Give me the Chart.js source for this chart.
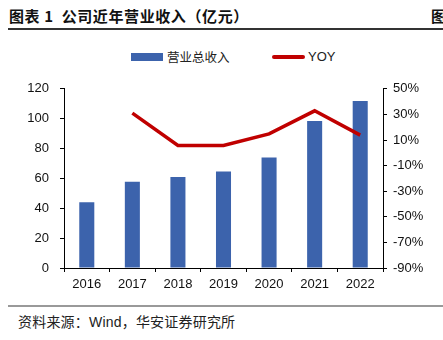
<!DOCTYPE html>
<html>
<head>
<meta charset="utf-8">
<script src="https://cdn.jsdelivr.net/npm/chart.js@4/dist/chart.umd.min.js"></script>
<style>
  body { margin: 0; width: 443px; height: 340px; overflow: hidden; background: #fff; position: relative;
         font-family: "Liberation Sans", "Noto Sans CJK SC", sans-serif; }
  .title { position: absolute; left: 9px; top: 6px; font-size: 15px; font-weight: bold; color: #111;
           font-family: "Noto Sans CJK SC", sans-serif; white-space: nowrap; line-height: 20px; letter-spacing: 0.6px; }
  .title2 { position: absolute; left: 431px; top: 6px; font-size: 15px; font-weight: bold; color: #111;
            font-family: "Noto Sans CJK SC", sans-serif; line-height: 20px; }
  .rule-top { position: absolute; left: 8px; right: 0; top: 28px; height: 2px; background: #333; }
  .rule-bot { position: absolute; left: 8px; right: 0; top: 305px; height: 2px; background: #999; }
  .source { position: absolute; left: 18px; top: 312px; font-size: 14px; color: #222; line-height: 20px; white-space: nowrap; letter-spacing: 0.2px; }
  .legend { position: absolute; top: 48px; left: 0; width: 443px; height: 18px; font-size: 12.5px; color: #222; }
  .legend .box { position: absolute; left: 131px; top: 5px; width: 32px; height: 8px; background: #3C63AC; }
  .legend .t1 { position: absolute; left: 167px; top: 0; line-height: 18px; font-family: "Noto Sans CJK SC", sans-serif; }
  .legend .ln { position: absolute; left: 272px; top: 7px; width: 33px; height: 4px; background: #C00000; border-radius: 2px; }
  .legend .t2 { position: absolute; left: 308px; top: 0; line-height: 18px; font-size: 13px; }
  #wrap { position: absolute; left: 0; top: 70px; width: 443px; height: 230px; }
</style>
</head>
<body>
<div class="title">图表 1 &nbsp;公司近年营业收入（亿元）</div>
<div class="title2">图</div>
<div class="rule-top"></div>
<div class="legend">
  <div class="box"></div><div class="t1">营业总收入</div>
  <div class="ln"></div><div class="t2">YOY</div>
</div>
<div id="wrap"><canvas id="myChart"></canvas></div>
<div class="rule-bot"></div>
<div class="source">资料来源：Wind，华安证券研究所</div>
<script>
var years = ["2016", "2017", "2018", "2019", "2020", "2021", "2022"];
var revenue = [44.0, 57.7, 61.0, 64.6, 74.0, 98.4, 111.8];
var yoy = [null, 31.0, 5.8, 5.8, 14.8, 32.8, 13.8];

var ctx = document.getElementById("myChart");

var myChart = new Chart(ctx, {
  data: {
    labels: years,
    datasets: [{
      type: 'line',
      label: 'YOY',
      data: yoy,
      yAxisID: 'y1',
      borderColor: '#C00000',
      backgroundColor: '#C00000',
      borderWidth: 3.5,
      pointRadius: 0,
      tension: 0,
      order: 0
    }, {
      type: 'bar',
      label: '营业总收入',
      data: revenue,
      yAxisID: 'y',
      backgroundColor: '#3C63AC',
      categoryPercentage: 1,
      barPercentage: 0.33,
      order: 1
    }]
  },
  options: {
    responsive: true,
    maintainAspectRatio: false,
    animation: false,
    layout: { padding: { top: 17, left: 0, right: 0, bottom: 0 } },
    plugins: {
      legend: { display: false },
      tooltip: { enabled: false }
    },
    scales: {
      x: {
        grid: { drawOnChartArea: false, drawTicks: true, tickLength: 4, color: '#000', offset: true },
        border: { color: '#000', width: 1 },
        ticks: { color: '#111', font: { family: 'Liberation Sans', size: 13 }, padding: 5, maxRotation: 0 },
        afterFit: function(scale) { scale.height = 32; }
      },
      y: {
        position: 'left',
        min: 0, max: 120,
        grid: { drawOnChartArea: false, drawTicks: true, tickLength: 4, color: '#000' },
        border: { color: '#000', width: 1 },
        ticks: { stepSize: 20, color: '#111', font: { family: 'Liberation Sans', size: 13 }, padding: 11 },
        afterFit: function(scale) { scale.width = 64; }
      },
      y1: {
        position: 'right',
        min: -90, max: 50,
        grid: { drawOnChartArea: false, drawTicks: true, tickLength: 4, color: '#000' },
        border: { color: '#000', width: 1 },
        ticks: {
          stepSize: 20, color: '#111', font: { family: 'Liberation Sans', size: 13 }, padding: 6,
          callback: function(v) { return v + '%'; }
        },
        afterFit: function(scale) { scale.width = 60; }
      }
    }
  }
});
</script>
</body>
</html>
